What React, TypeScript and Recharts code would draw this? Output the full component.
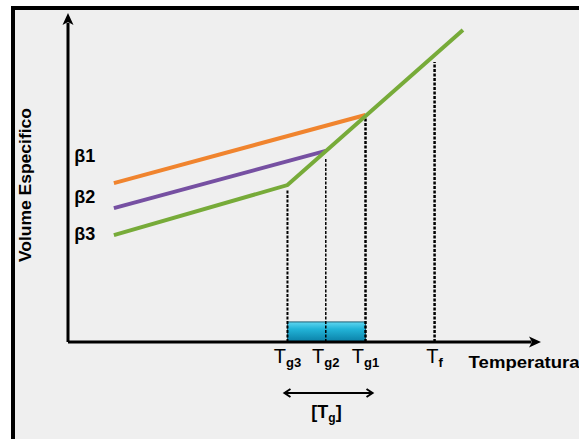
import React from 'react';
import { ComposedChart, Line, XAxis, YAxis, ReferenceLine, ReferenceArea, ReferenceDot } from 'recharts';

// ---- data (arbitrary temperature / specific-volume units) ----
const beta1 = [
  { t: 9.7, v: 48.3 },
  { t: 62.9, v: 69.0 },
];
const beta2 = [
  { t: 9.7, v: 40.7 },
  { t: 54.5, v: 58.1 },
];
const beta3 = [
  { t: 9.7, v: 32.5 },
  { t: 46.4, v: 47.7 },
  { t: 83.5, v: 94.8 },
];
const transitionNames = ['g3', 'g2', 'g1', 'f'];
const transitionTemps = [46.4, 54.5, 62.9, 77.5];
const dashedTops = [46.2, 55.9, 68.1, 85.1];
const dashedWidths = [2, 1.5, 2.5, 2.5];
const betaLabels = ['β1', 'β2', 'β3'];
const betaLabelY = [54.7, 42.2, 31.0];
const tgBand = { from: 46.4, to: 62.9, height: 6.1 };
const xLabel = 'Temperatura';
const yLabel = 'Volume Especifico';

const FONT = '"Liberation Sans", Arial, Helvetica, sans-serif';
const ORANGE = '#f0842e';
const PURPLE = '#7650a2';
const GREEN = '#77ab39';

const W = 579;
const H = 439;

const TextDot = (render: (cx: number, cy: number) => React.ReactNode) => (p: any) => (
  <g>{render(p.cx, p.cy)}</g>
);

export default function App() {
  return (
    <div style={{ position: 'fixed', left: 0, top: 0, width: W, height: H, background: '#fff' }}>
      <div
        style={{
          position: 'absolute',
          left: 11,
          top: 6,
          right: 0,
          bottom: 0,
          background: '#efefef',
          borderLeft: '4px solid #000',
          borderTop: '4px solid #000',
        }}
      />
      <div style={{ position: 'absolute', left: 0, top: 0 }}>
        <ComposedChart
          width={W}
          height={H}
          margin={{ left: 68, right: 38, top: 13, bottom: 97 }}
        >
          <defs>
            <linearGradient id="cyanGrad" x1="0" y1="0" x2="0" y2="1">
              <stop offset="0%" stopColor="#5fd6f0" />
              <stop offset="35%" stopColor="#22b4d8" />
              <stop offset="100%" stopColor="#0a7fa6" />
            </linearGradient>
          </defs>
          <XAxis type="number" dataKey="t" domain={[0, 100]} hide allowDataOverflow />
          <YAxis type="number" dataKey="v" domain={[0, 100]} hide allowDataOverflow />

          {/* axes */}
          <ReferenceLine
            segment={[{ x: 0, y: 0 }, { x: 98, y: 0 }]}
            stroke="#000"
            strokeWidth={3}
            ifOverflow="visible"
          />
          <ReferenceLine
            segment={[{ x: 0, y: 0 }, { x: 0, y: 97 }]}
            stroke="#000"
            strokeWidth={3}
            ifOverflow="visible"
          />
          <ReferenceDot
            x={100}
            y={0}
            ifOverflow="visible"
            shape={(p: any) => (
              <path d={`M${p.cx},${p.cy} L${p.cx - 12},${p.cy - 5.5} L${p.cx - 9},${p.cy} L${p.cx - 12},${p.cy + 5.5} Z`} fill="#000" />
            )}
          />
          <ReferenceDot
            x={0}
            y={100}
            ifOverflow="visible"
            shape={(p: any) => (
              <path d={`M${p.cx},${p.cy} L${p.cx - 5.5},${p.cy + 12} L${p.cx},${p.cy + 9} L${p.cx + 5.5},${p.cy + 12} Z`} fill="#000" />
            )}
          />

          {/* Tg range band */}
          <ReferenceArea
            x1={tgBand.from}
            x2={tgBand.to}
            y1={0}
            y2={tgBand.height}
            fill="url(#cyanGrad)"
            fillOpacity={1}
            stroke="#1b5e74"
            strokeWidth={1}
            ifOverflow="visible"
          />

          {/* dashed drop lines */}
          {transitionTemps.map((t, i) => (
            <ReferenceLine
              key={'d' + i}
              segment={[{ x: t, y: 0 }, { x: t, y: dashedTops[i] }]}
              stroke="#000"
              strokeWidth={dashedWidths[i]}
              strokeDasharray="3 1.5"
              ifOverflow="visible"
            />
          ))}

          <Line data={beta1} dataKey="v" type="linear" stroke={ORANGE} strokeWidth={4} dot={false} isAnimationActive={false} />
          <Line data={beta2} dataKey="v" type="linear" stroke={PURPLE} strokeWidth={4} dot={false} isAnimationActive={false} />
          <Line data={beta3} dataKey="v" type="linear" stroke={GREEN} strokeWidth={4} dot={false} isAnimationActive={false} />

          {/* transition temperature labels */}
          {transitionTemps.map((t, i) => (
            <ReferenceDot
              key={'l' + i}
              x={t}
              y={0}
              ifOverflow="visible"
              shape={TextDot((cx, cy) => (
                <text x={cx} y={cy + 21} textAnchor="middle" fontFamily={FONT} fill="#000">
                  <tspan fontSize={20}>T</tspan>
                  <tspan fontSize={13} fontWeight="bold" dy={4}>{transitionNames[i]}</tspan>
                </text>
              ))}
            />
          ))}

          {/* x axis title */}
          <ReferenceDot
            x={84.7}
            y={0}
            ifOverflow="visible"
            shape={TextDot((cx, cy) => (
              <text x={cx} y={cy + 26} fontFamily={FONT} fontWeight="bold" fontSize={17} textLength={111} lengthAdjust="spacingAndGlyphs" fill="#000">
                {xLabel}
              </text>
            ))}
          />

          {/* y axis title */}
          <ReferenceDot
            x={0}
            y={47.7}
            ifOverflow="visible"
            shape={TextDot((cx, cy) => (
              <text
                x={0}
                y={0}
                transform={`translate(${cx - 37},${cy}) rotate(-90)`}
                textAnchor="middle"
                fontFamily={FONT}
                fontWeight="bold"
                fontSize={16}
                textLength={154}
                lengthAdjust="spacingAndGlyphs"
                fill="#000"
              >
                {yLabel}
              </text>
            ))}
          />

          {/* beta labels */}
          {betaLabels.map((b, i) => (
            <ReferenceDot
              key={'b' + i}
              x={1.3}
              y={betaLabelY[i]}
              ifOverflow="visible"
              shape={TextDot((cx, cy) => (
                <text x={cx} y={cy} fontFamily={FONT} fontWeight="bold" fontSize={18} fill="#000">
                  {b}
                </text>
              ))}
            />
          ))}

          {/* [Tg] double arrow */}
          <ReferenceLine
            segment={[{ x: tgBand.from, y: 0 }, { x: tgBand.to, y: 0 }]}
            ifOverflow="visible"
            shape={(p: any) => {
              const y = p.y1 + 51;
              const a = p.x1 - 3;
              const b = p.x2 + 7;
              const mid = (a + b) / 2;
              return (
                <g>
                  <line x1={a} y1={y} x2={b} y2={y} stroke="#000" strokeWidth={2} />
                  <polyline points={`${a + 6},${y - 4} ${a},${y} ${a + 6},${y + 4}`} fill="none" stroke="#000" strokeWidth={2} />
                  <polyline points={`${b - 6},${y - 4} ${b},${y} ${b - 6},${y + 4}`} fill="none" stroke="#000" strokeWidth={2} />
                  <text x={mid - 2} y={p.y1 + 76} textAnchor="middle" fontFamily={FONT} fontWeight="bold" fill="#000">
                    <tspan fontSize={18}>[T</tspan>
                    <tspan fontSize={12} dy={4}>g</tspan>
                    <tspan fontSize={18} dy={-4}>]</tspan>
                  </text>
                </g>
              );
            }}
          />
        </ComposedChart>
      </div>
    </div>
  );
}
